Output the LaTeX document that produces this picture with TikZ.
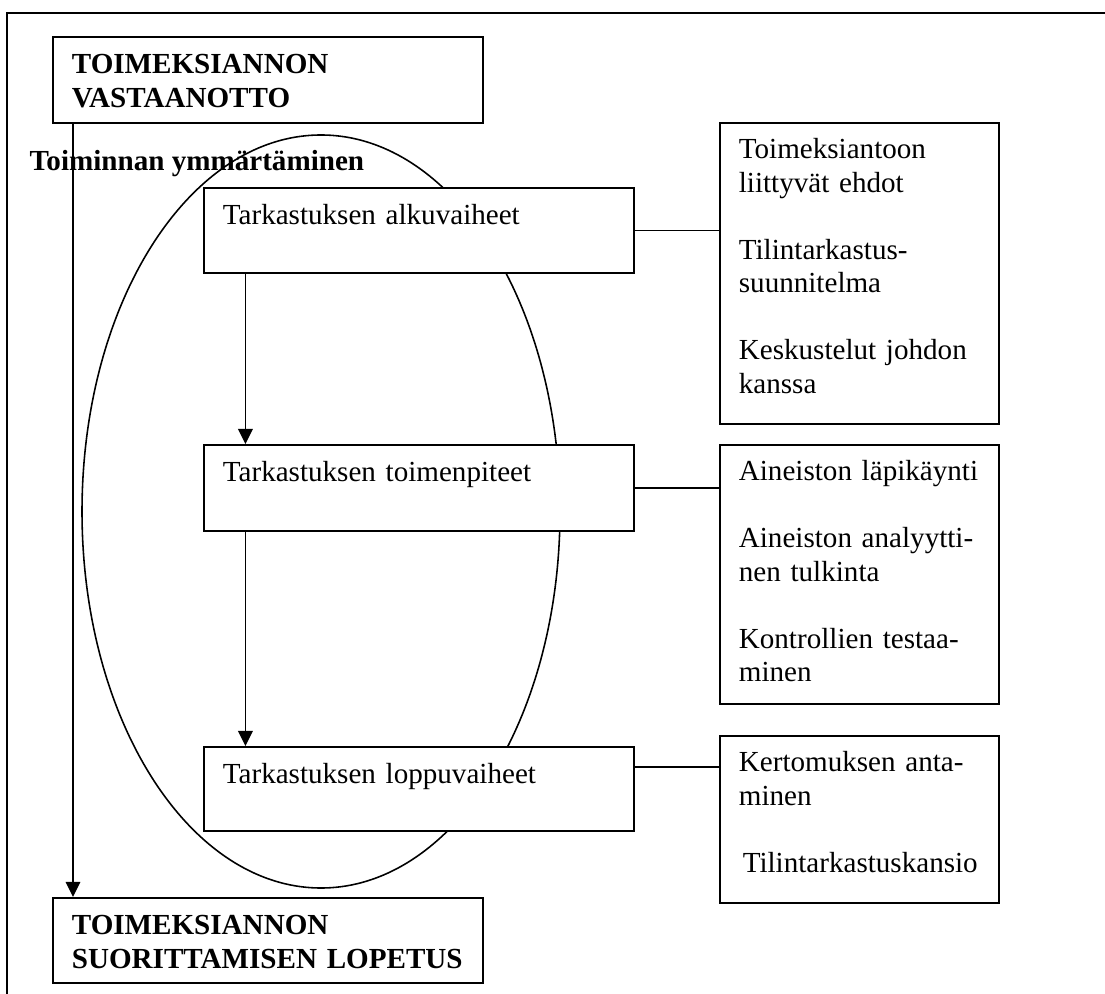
\documentclass[tikz,border=0pt]{standalone}
\usepackage{fontspec}
\setmainfont{Liberation Serif}
\usetikzlibrary{arrows.meta}
\begin{document}
\begin{tikzpicture}[x=.4124pt,y=-.4124pt,line width=.6pt,
  box/.style={draw,fill=white,line width=.8pt,anchor=north west,align=left,inner sep=0pt,
    text height=15.26pt,font=\fontsize{12}{13.8}\selectfont,execute at begin node={\leftskip=7.8pt}},
  wide/.style={box,text width=177.33pt},
  title/.style={wide,font=\fontsize{12}{13.8}\selectfont\bfseries},
  side/.style={box,text width=115.06pt,text height=14.85pt},
  arr/.style={-{Triangle[length=6.2pt,width=6pt]}}]
\useasboundingbox (0,0) rectangle (1105,994);
\draw[line width=1pt] (7,994)--(7,13)--(1105,13);
\draw[line width=.65pt] (321,511.5) ellipse [x radius=98.56pt,y radius=155.27pt];
\node[title,text depth=20.21pt] (recv) at (52,36) {TOIMEKSIANNON\\VASTAANOTTO};
\node[title,text depth=19.8pt] (stop) at (52,897) {TOIMEKSIANNON\\SUORITTAMISEN LOPETUS};
\node[font=\fontsize{12}{13.8}\selectfont\bfseries,anchor=base west,inner sep=0pt] (lbl) at (29,171) {Toiminnan ymmärtäminen};
\node[wide,text depth=19.8pt] (b1) at (203,187) {Tarkastuksen alkuvaiheet};
\node[wide,text depth=20.21pt] (b2) at (203,444) {Tarkastuksen toimenpiteet};
\node[wide,text depth=19.38pt] (b3) at (203,746) {Tarkastuksen loppuvaiheet};
\node[side,text depth=109.29pt] (r1) at (719,122) {Toimeksiantoon\\liittyvät ehdot\\[13.8pt]Tilintarkastus-\\suunnitelma\\[13.8pt]Keskustelut johdon\\kanssa};
\node[side,text depth=91.97pt] (r2) at (719,444) {Aineiston läpikäynti\\[13.8pt]Aineiston analyytti-\\nen tulkinta\\[13.8pt]Kontrollien testaa-\\minen};
\node[side,text depth=54.02pt] (r3) at (719,735) {Kertomuksen anta-\\minen\\[13.8pt]\hspace*{1.6pt}Tilintarkastuskansio};
\draw[arr] ([xshift=8.66pt]recv.south west) -- ([xshift=8.66pt]stop.north west);
\draw[arr] ([xshift=17.5pt]b1.south west) -- ([xshift=17.5pt]b2.north west);
\draw[arr] ([xshift=17.5pt]b2.south west) -- ([xshift=17.5pt]b3.north west);
\draw (b1.east) -- (b1.east -| r1.west);
\draw (b2.east) -- (b2.east -| r2.west);
\draw ([yshift=-8.66pt]b3.north east) coordinate (b3c) -- (b3c -| r3.west);
\end{tikzpicture}
\end{document}
